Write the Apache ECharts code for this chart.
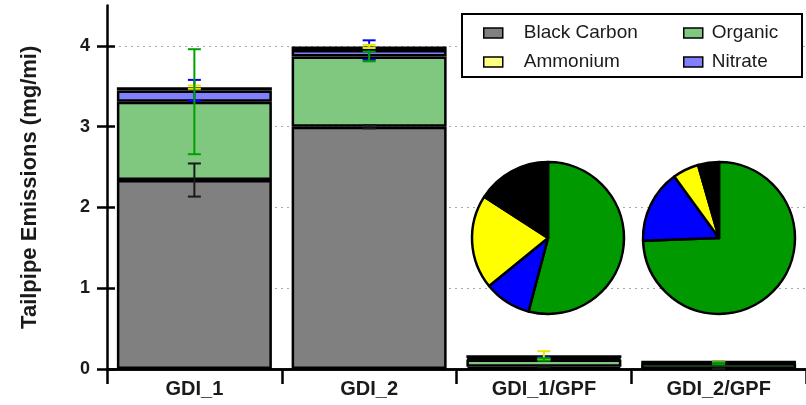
<!DOCTYPE html>
<html>
<head>
<meta charset="utf-8">
<script src="https://cdn.jsdelivr.net/npm/echarts@6/dist/echarts.min.js"></script>
<style>
  html, body { margin: 0; padding: 0; background: #fff; }
  #chart { width: 806px; height: 405px; }
</style>
</head>
<body>
<div id="chart"></div>
<script>
// Tailpipe PM composition per vehicle configuration (mg/mi)
const categories = ['GDI_1', 'GDI_2', 'GDI_1/GPF', 'GDI_2/GPF'];
const blackCarbon = [2.34, 3.00, 0.027, 0.004];
const organic     = [0.97, 0.87, 0.092, 0.067];
const nitrate     = [0.14, 0.08, 0.017, 0.014];
const ammonium    = [0.04, 0.045, 0.034, 0.005];

// Error half-widths, plotted at the top of each stacked segment
const blackCarbonErr = [0.205, 0.02, 0.005, 0.002];
const organicErr     = [0.65, 0.06, 0.015, 0.012];
const nitrateErr     = [0.13, 0.12, 0.01, 0.008];
const ammoniumErr    = [0.02, 0.02, 0.05, 0.003];

const yTicks = [0, 1, 2, 3, 4];

const FONT = "'Liberation Sans', Arial, sans-serif";
const TXT = '#1a1a1a';

const barColors = { bc: '#808080', org: '#80c880', amm: '#ffff80', nit: '#8080ff' };
const pieColors = { bc: '#000000', org: '#009900', amm: '#ffff00', nit: '#0000ff' };

// cumulative tops of each segment
const topBC  = blackCarbon.map(v => v);
const topOrg = topBC.map((v, i) => v + organic[i]);
const topNit = topOrg.map((v, i) => v + nitrate[i]);
const topAmm = topNit.map((v, i) => v + ammonium[i]);

function errData(tops, errs) {
  return tops.map((t, i) => [i, t - errs[i], t + errs[i]]);
}

function errorSeries(name, tops, errs, color, z) {
  return {
    type: 'custom',
    name: name + ' error',
    z: z,
    silent: true,
    data: errData(tops, errs),
    encode: { x: 0, y: [1, 2] },
    renderItem: function (params, api) {
      const lo = api.coord([api.value(0), api.value(1)]);
      const hi = api.coord([api.value(0), api.value(2)]);
      const hw = 6.5;
      const st = { stroke: color, lineWidth: 2 };
      return {
        type: 'group',
        children: [
          { type: 'line', shape: { x1: lo[0], y1: lo[1], x2: hi[0], y2: hi[1] }, style: st },
          { type: 'line', shape: { x1: lo[0] - hw, y1: lo[1], x2: lo[0] + hw, y2: lo[1] }, style: st },
          { type: 'line', shape: { x1: hi[0] - hw, y1: hi[1], x2: hi[0] + hw, y2: hi[1] }, style: st }
        ]
      };
    }
  };
}

function barSeries(name, data, color) {
  return {
    type: 'bar',
    name: name,
    stack: 'total',
    barWidth: 155,
    data: data,
    itemStyle: { color: color, borderColor: '#000', borderWidth: 2.5 },
    emphasis: { disabled: true }
  };
}

function pieSeries(idx, cx) {
  return {
    type: 'pie',
    center: [cx, 238],
    radius: 76,
    startAngle: 90,
    clockwise: true,
    label: { show: false },
    labelLine: { show: false },
    emphasis: { disabled: true },
    z: 5,
    itemStyle: { borderColor: '#000', borderWidth: 2.5 },
    data: [
      { name: 'Organic', value: organic[idx], itemStyle: { color: pieColors.org } },
      { name: 'Nitrate', value: nitrate[idx], itemStyle: { color: pieColors.nit } },
      { name: 'Ammonium', value: ammonium[idx], itemStyle: { color: pieColors.amm } },
      { name: 'Black Carbon', value: blackCarbon[idx], itemStyle: { color: pieColors.bc } }
    ]
  };
}

const chart = echarts.init(document.getElementById('chart'), null, { renderer: 'canvas' });

const legendCommon = {
  orient: 'vertical',
  itemWidth: 19,
  itemHeight: 10,
  itemGap: 10,
  padding: 0,
  icon: 'rect',
  itemStyle: { borderColor: '#000', borderWidth: 1.5 },
  selectedMode: false
};

chart.setOption({
  animation: false,
  backgroundColor: '#fff',
  textStyle: { fontFamily: FONT },
  grid: { left: 107, right: 0, top: 5.6, bottom: 405 - 369 },
  graphic: [{
    type: 'rect',
    shape: { x: 462, y: 14, width: 340, height: 63 },
    style: { fill: '#fff', stroke: '#000', lineWidth: 2 },
    z: 10
  }],
  legend: [
    Object.assign({}, legendCommon, {
      data: ['Black Carbon', 'Ammonium'],
      left: 483, top: 23.5, z: 20,
      textStyle: { fontFamily: FONT, fontSize: 19, color: TXT, lineHeight: 19, padding: [0, 0, 0, 16] }
    }),
    Object.assign({}, legendCommon, {
      data: ['Organic', 'Nitrate'],
      left: 683, top: 23.5, z: 20,
      textStyle: { fontFamily: FONT, fontSize: 19, color: TXT, lineHeight: 19, padding: [0, 0, 0, 4] }
    })
  ],
  xAxis: [{
    type: 'category',
    data: categories,
    axisLine: { lineStyle: { color: '#000', width: 2.5 } },
    axisTick: { show: true, length: 15, lineStyle: { color: '#000', width: 2.5 } },
    axisLabel: { fontFamily: FONT, fontSize: 20, fontWeight: 'bold', color: TXT, margin: 10 }
  }, {
    type: 'category',
    position: 'top',
    data: categories,
    axisLine: { lineStyle: { color: '#000', width: 2.5 } },
    axisTick: { show: false },
    axisLabel: { show: false }
  }],
  yAxis: [{
    type: 'value',
    min: 0, max: 4.5, interval: 1,
    name: 'Tailpipe Emissions (mg/mi)',
    nameLocation: 'middle',
    nameGap: 66,
    nameRotate: 90,
    nameTextStyle: { fontFamily: FONT, fontSize: 22, fontWeight: 'bold', color: TXT },
    axisLine: { show: true, lineStyle: { color: '#000', width: 2.5 } },
    axisTick: { show: true, length: 10, customValues: yTicks, lineStyle: { color: '#000', width: 2.5 } },
    axisLabel: { fontFamily: FONT, fontSize: 18, fontWeight: 'bold', color: TXT, margin: 17, customValues: yTicks },
    splitLine: { show: true, lineStyle: { color: '#aaa', type: [2, 4], width: 1 } }
  }, {
    type: 'value',
    position: 'left',
    min: 0, max: 4.5, interval: 1,
    axisLine: { show: false },
    axisTick: { show: true, inside: true, length: 8, customValues: yTicks, lineStyle: { color: '#000', width: 2.5 } },
    axisLabel: { show: false },
    splitLine: { show: false }
  }, {
    type: 'value',
    position: 'right',
    min: 0, max: 4.5,
    axisLine: { show: true, lineStyle: { color: '#bbb', width: 1 } },
    axisTick: { show: false },
    axisLabel: { show: false },
    splitLine: { show: false }
  }],
  series: [
    barSeries('Black Carbon', blackCarbon, barColors.bc),
    barSeries('Organic', organic, barColors.org),
    barSeries('Nitrate', nitrate, barColors.nit),
    barSeries('Ammonium', ammonium, barColors.amm),
    errorSeries('Black Carbon', topBC, blackCarbonErr, '#1a1a1a', 6),
    errorSeries('Nitrate', topNit, nitrateErr, '#0000ff', 6),
    errorSeries('Ammonium', topAmm, ammoniumErr, '#e6e600', 6),
    errorSeries('Organic', topOrg, organicErr, '#00a000', 7),
    pieSeries(2, 548),
    pieSeries(3, 719)
  ]
});
</script>
</body>
</html>
